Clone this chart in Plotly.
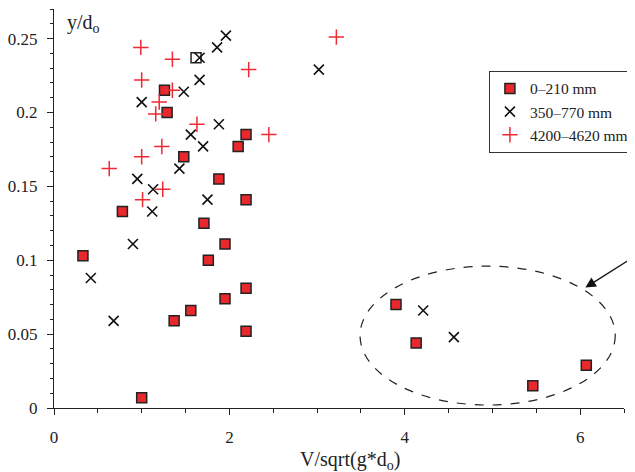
import plotly.graph_objects as go

# 0–210 mm (squares)
sq_x = [0.33, 1.00, 1.37, 1.56, 1.76, 1.95, 1.95, 2.19, 2.19, 0.78, 1.26, 1.29, 1.48,
        1.88, 1.71, 2.10, 2.19, 2.19, 1.62, 3.90, 4.13, 5.46, 6.07]
sq_y = [0.103, 0.007, 0.059, 0.066, 0.100, 0.111, 0.074, 0.081, 0.052, 0.133, 0.215, 0.200, 0.170,
        0.155, 0.125, 0.177, 0.185, 0.141, 0.237, 0.070, 0.044, 0.015, 0.029]

# 350–770 mm (x marks)
xm_x = [0.42, 0.68, 0.90, 1.00, 0.95, 1.13, 1.12, 1.43, 1.48, 1.56, 1.66, 1.66, 1.70,
        1.75, 1.88, 1.86, 1.96, 3.02, 4.21, 4.56]
xm_y = [0.088, 0.059, 0.111, 0.207, 0.155, 0.148, 0.133, 0.162, 0.214, 0.185, 0.222, 0.237, 0.177,
        0.141, 0.192, 0.244, 0.252, 0.229, 0.066, 0.048]

# 4200–4620 mm (plus marks)
pl_x = [0.99, 1.35, 1.00, 1.35, 1.20, 1.16, 1.63, 1.23, 1.00, 0.63, 1.24, 1.01, 2.22, 2.45, 3.22]
pl_y = [0.244, 0.236, 0.222, 0.215, 0.207, 0.199, 0.192, 0.177, 0.170, 0.162, 0.148, 0.141, 0.229, 0.185, 0.251]

labels = ["0–210 mm", "350–770 mm", "4200–4620 mm"]

FONT = "Liberation Serif"
sq_fill = ["#e8282c"] * len(sq_x)
sq_fill[18] = "white"

fig = go.Figure()
fig.add_trace(go.Scatter(x=sq_x, y=sq_y, mode="markers", name=labels[0], legendgroup="a",
                         marker=dict(symbol="square", size=10, color=sq_fill,
                                     line=dict(color="#222222", width=1.5))))
fig.add_trace(go.Scatter(x=xm_x, y=xm_y, mode="markers", name=labels[1], legendgroup="b",
                         marker=dict(symbol="x-thin", size=10, color="#111111",
                                     line=dict(color="#111111", width=1.6))))
fig.add_trace(go.Scatter(x=pl_x, y=pl_y, mode="markers", name=labels[2], legendgroup="c",
                         marker=dict(symbol="cross-thin", size=11, color="#ee2a33",
                                     line=dict(color="#ee2a33", width=1.5))))

# dashed ellipse
fig.add_shape(type="circle", xref="x", yref="y", x0=3.49, x1=6.40, y0=0.002, y1=0.096,
              line=dict(color="#222222", width=1.2, dash="dash"))

# arrow
fig.add_annotation(x=6.06, y=0.0815, xref="x", yref="y", ax=52, ay=-33, text="",
                   showarrow=True, arrowhead=2, arrowsize=1.6, arrowwidth=1.3, arrowcolor="#111111")

fig.add_annotation(text="y/d<sub>o</sub>", xref="paper", yref="paper", x=0.02, y=0.999,
                   xanchor="left", yanchor="top", showarrow=False,
                   font=dict(family=FONT, size=20, color="#222222"))
fig.add_annotation(text="V/sqrt(g*d<sub>o</sub>)", xref="paper", yref="paper", x=0.52, y=-0.131,
                   xanchor="center", yanchor="middle", showarrow=False,
                   font=dict(family=FONT, size=20, color="#222222"))

axis_common = dict(showgrid=False, zeroline=False, showline=True, linecolor="#222222", linewidth=1.3,
                   ticks="outside", tickcolor="#222222", tickwidth=1.3, ticklen=6, automargin=False,
                   tickfont=dict(family=FONT, size=17, color="#222222"))

fig.update_xaxes(range=[0, 6.5], dtick=2, tick0=0, ticklabelstandoff=7,
                 minor=dict(dtick=0.5, ticks="outside", ticklen=4, tickcolor="#222222", tickwidth=1.2),
                 **axis_common)
fig.update_yaxes(range=[0, 0.27], dtick=0.05, tick0=0, ticklabelstandoff=6,
                 minor=dict(dtick=0.01, ticks="outside", ticklen=3, tickcolor="#222222", tickwidth=1.2),
                 **axis_common)

fig.update_layout(
    width=635, height=472,
    margin=dict(l=45.5, r=19.1, t=1, b=72.3, autoexpand=False),
    plot_bgcolor="white", paper_bgcolor="white",
    font=dict(family=FONT, size=16, color="#222222"),
    legend=dict(x=0.763, y=0.845, xanchor="left", yanchor="top", bordercolor="#333333", borderwidth=1,
                bgcolor="white", font=dict(family=FONT, size=15.5, color="#222222"),
                tracegroupgap=0, itemwidth=30),
    showlegend=True,
)

fig.write_html("out.html")
